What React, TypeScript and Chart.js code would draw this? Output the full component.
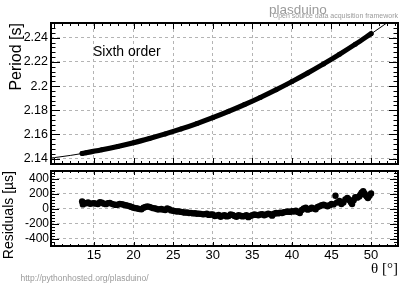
import { useEffect, useRef } from "react";
import { Chart, registerables } from "chart.js";

Chart.register(...registerables);

// ---------------- data ----------------
const periodAngles = [13.5, 14, 16, 18, 20, 22, 24, 26, 28, 30, 32, 34, 36, 38, 40, 42, 44, 46, 48, 50];
const periodValues = [
  2.14432, 2.14488, 2.14733, 2.15011, 2.15319, 2.15668, 2.16044, 2.16458, 2.16907, 2.17391,
  2.17912, 2.18471, 2.19067, 2.19702, 2.20374, 2.21084, 2.21838, 2.22629, 2.23461, 2.24338,
];

const fitAngles = [9, 10, 12, 14, 16, 18, 20, 22, 24, 26, 28, 30, 32, 34, 36, 38, 40, 42, 44, 46, 48, 50, 52, 54];
const fitValues = [
  2.1401, 2.14088, 2.14267, 2.1448, 2.14726, 2.15006, 2.15319, 2.15666, 2.16047, 2.16463, 2.16914, 2.174,
  2.17922, 2.1848, 2.19075, 2.19707, 2.20377, 2.21085, 2.21833, 2.2262, 2.23448, 2.24318, 2.25229, 2.26184,
];

const residualAngles = [
  13.5, 13.6, 13.75, 14.0, 14.25, 14.5, 14.75, 15.0, 15.25, 15.5,
  15.75, 16.0, 16.25, 16.5, 16.75, 17.0, 17.25, 17.5, 17.75, 18.0,
  18.25, 18.5, 18.75, 19.0, 19.25, 19.5, 19.75, 20.0, 20.25, 20.5,
  20.75, 21.0, 21.25, 21.5, 21.75, 22.0, 22.25, 22.5, 22.75, 23.0,
  23.25, 23.5, 23.75, 24.0, 24.25, 24.5, 24.75, 25.0, 25.25, 25.5,
  25.75, 26.0, 26.25, 26.5, 26.75, 27.0, 27.25, 27.5, 27.75, 28.0,
  28.25, 28.5, 28.75, 29.0, 29.25, 29.5, 29.75, 30.0, 30.25, 30.5,
  30.75, 31.0, 31.25, 31.5, 31.75, 32.0, 32.25, 32.5, 32.75, 33.0,
  33.25, 33.5, 33.75, 34.0, 34.25, 34.5, 34.75, 35.0, 35.25, 35.5,
  35.75, 36.0, 36.25, 36.5, 36.75, 37.0, 37.25, 37.5, 37.75, 38.0,
  38.25, 38.5, 38.75, 39.0, 39.25, 39.5, 39.75, 40.0, 40.25, 40.5,
  40.75, 41.0, 41.25, 41.5, 41.75, 42.0, 42.25, 42.5, 42.75, 43.0,
  43.25, 43.5, 43.75, 44.0, 44.25, 44.5, 44.75, 45.0, 45.25, 45.5,
  45.7, 46.0, 46.25, 46.5, 46.75, 47.0, 47.15, 47.3, 47.45, 47.6,
  47.8, 48.0, 48.25, 48.5, 48.65, 48.8, 49.0, 49.15, 49.3, 49.45,
  49.6, 49.8, 50.0,
];
const residualValues = [
  95, 55, 75, 70, 80, 62, 68, 72, 65, 60,
  85, 78, 65, 58, 70, 75, 62, 55, 48, 50,
  62, 58, 50, 45, 38, 30, 20, 10, 5, 0,
  -8, -10, 10, 20, 28, 22, 12, 5, 0, -10,
  -12, -5, -15, -20, 2, -10, -25, -30, -35, -40,
  -38, -45, -50, -55, -52, -60, -58, -65, -62, -70,
  -68, -72, -78, -75, -70, -85, -80, -80, -100, -95,
  -85, -110, -95, -90, -105, -100, -80, -85, -100, -110,
  -90, -95, -105, -100, -90, -115, -100, -90, -80, -85,
  -90, -80, -75, -90, -80, -70, -75, -95, -70, -60,
  -65, -55, -60, -50, -45, -40, -45, -35, -40, -30,
  -45, -60, -20, 0, 10, -15, -5, 10, 0, -10,
  20, 30, 45, 50, 40, 30, 45, 60, 55, 170,
  80, 100, 60, 80, 120, 140, 125, 110, 85, 60,
  110, 150, 145, 160, 185, 210, 230, 205, 180, 160,
  140, 170, 200,
];

const angleTicks = [15, 20, 25, 30, 35, 40, 45, 50];
const periodTicks = [2.14, 2.16, 2.18, 2.2, 2.22, 2.24];
const residualTicks = [-400, -200, 0, 200, 400];

const angleRange = [9.57, 53.4];
const periodRange = [2.1356, 2.2522];
const residualRange = [-500, 500];

// ---------------- styling helpers ----------------
const FONT = "Liberation Sans";
const GRID_COLOR = "#b4b4b4";

type FrameOpts = {
  xMinor: number; xRatio: number; yMinor: number; yRatio: number;
  xMajorLen: number; xMinorLen: number; yMajorLen: number; yMinorLen: number;
};

function framePlugin(id: string, o: FrameOpts) {
  return {
    id,
    afterDraw(chart: any) {
      const { ctx, chartArea: a, scales } = chart;
      const xs = scales.x;
      const ys = scales.y;
      ctx.save();
      ctx.strokeStyle = "#000";
      ctx.lineWidth = 1;
      ctx.beginPath();
      for (let k = Math.ceil(xs.min / o.xMinor - 1e-9); k * o.xMinor <= xs.max + 1e-9; k++) {
        const px = Math.round(xs.getPixelForValue(k * o.xMinor)) + 0.5;
        const len = k % o.xRatio === 0 ? o.xMajorLen : o.xMinorLen;
        ctx.moveTo(px, a.bottom);
        ctx.lineTo(px, a.bottom - len);
        ctx.moveTo(px, a.top);
        ctx.lineTo(px, a.top + len);
      }
      for (let k = Math.ceil(ys.min / o.yMinor - 1e-9); k * o.yMinor <= ys.max + 1e-9; k++) {
        const py = Math.round(ys.getPixelForValue(k * o.yMinor)) + 0.5;
        const len = k % o.yRatio === 0 ? o.yMajorLen : o.yMinorLen;
        ctx.moveTo(a.left, py);
        ctx.lineTo(a.left + len, py);
        ctx.moveTo(a.right, py);
        ctx.lineTo(a.right - len, py);
      }
      ctx.stroke();
      ctx.lineWidth = 2;
      ctx.strokeRect(a.left, a.top, a.right - a.left, a.bottom - a.top);
      ctx.restore();
    },
  };
}

const textPlugin = {
  id: "texts",
  afterDraw(chart: any) {
    const ctx = chart.ctx;
    ctx.save();
    ctx.textBaseline = "alphabetic";
    ctx.fillStyle = "#000";
    ctx.font = `14px "${FONT}"`;
    ctx.textAlign = "left";
    ctx.fillText("Sixth order", 93, 55.5);
    ctx.fillStyle = "#9a9a9a";
    ctx.font = `13.5px "${FONT}"`;
    ctx.fillText("plasduino", 269, 13.5);
    ctx.font = `7px "${FONT}"`;
    ctx.textAlign = "right";
    ctx.fillText("Open source data acquisition framework", 398, 18);
    ctx.textAlign = "left";
    ctx.font = `8.5px "${FONT}"`;
    ctx.fillText("http://pythonhosted.org/plasduino/", 20.5, 280.5);
    ctx.restore();
  },
};

const gridOpts = { color: GRID_COLOR, lineWidth: 1, drawTicks: false };
const borderOpts = { display: false, dash: [3, 3] };
const fmt = (v: any) => String(Number(Number(v).toFixed(4)));

function topConfig(): any {
  return {
    type: "scatter",
    data: {
      datasets: [
        {
          data: periodAngles.map((x, i) => ({ x, y: periodValues[i] })),
          showLine: true,
          borderColor: "#000",
          backgroundColor: "#000",
          borderWidth: 5,
          borderCapStyle: "round",
          cubicInterpolationMode: "monotone",
          pointRadius: 2.5,
          pointBorderWidth: 0,
          order: 1,
        },
        {
          data: fitAngles.map((x, i) => ({ x, y: fitValues[i] })),
          showLine: true,
          borderColor: "#000",
          borderWidth: 1,
          cubicInterpolationMode: "monotone",
          pointRadius: 0,
          order: 2,
        },
      ],
    },
    options: {
      responsive: false,
      animation: false,
      events: [],
      layout: { padding: { left: 0, right: 17, top: 23, bottom: 120 } },
      plugins: { legend: { display: false }, tooltip: { enabled: false } },
      scales: {
        x: {
          type: "linear",
          min: angleRange[0],
          max: angleRange[1],
          afterBuildTicks: (s: any) => { s.ticks = angleTicks.map((value) => ({ value })); },
          afterFit: (s: any) => { s.height = 0; },
          ticks: { display: false },
          grid: gridOpts,
          border: borderOpts,
        },
        y: {
          type: "linear",
          min: periodRange[0],
          max: periodRange[1],
          afterBuildTicks: (s: any) => { s.ticks = periodTicks.map((value) => ({ value })); },
          afterFit: (s: any) => { s.width = 51; },
          ticks: { color: "#000", font: { family: FONT, size: 12.5 }, padding: 3, callback: fmt },
          grid: gridOpts,
          border: borderOpts,
          title: {
            display: true,
            text: "Period [s]",
            align: "end",
            color: "#000",
            font: { family: FONT, size: 16 },
            padding: { top: 7, bottom: 0 },
          },
        },
      },
    },
    plugins: [
      framePlugin("frameTop", {
        xMinor: 1, xRatio: 5, yMinor: 0.004, yRatio: 5,
        xMajorLen: 6, xMinorLen: 3, yMajorLen: 9, yMinorLen: 4.5,
      }),
      textPlugin,
    ],
  };
}

function bottomConfig(): any {
  return {
    type: "scatter",
    data: {
      datasets: [
        {
          data: residualAngles.map((x, i) => ({ x, y: residualValues[i] })),
          backgroundColor: "#000",
          pointRadius: 3.2,
          pointBorderWidth: 0,
        },
      ],
    },
    options: {
      responsive: false,
      animation: false,
      events: [],
      layout: { padding: { left: 0, right: 17, top: 171, bottom: 0 } },
      plugins: { legend: { display: false }, tooltip: { enabled: false } },
      scales: {
        x: {
          type: "linear",
          min: angleRange[0],
          max: angleRange[1],
          afterBuildTicks: (s: any) => { s.ticks = angleTicks.map((value) => ({ value })); },
          afterFit: (s: any) => { s.height = 38; },
          ticks: { color: "#000", font: { family: FONT, size: 13 }, padding: 2, callback: fmt },
          grid: gridOpts,
          border: borderOpts,
          title: {
            display: true,
            text: "θ [°]",
            align: "end",
            color: "#000",
            font: { family: "Liberation Serif", size: 15 },
            padding: { top: 0, bottom: 5.5 },
          },
        },
        y: {
          type: "linear",
          min: residualRange[0],
          max: residualRange[1],
          afterBuildTicks: (s: any) => { s.ticks = residualTicks.map((value) => ({ value })); },
          afterFit: (s: any) => { s.width = 51; },
          ticks: { color: "#000", font: { family: FONT, size: 12 }, padding: 2, callback: fmt },
          grid: gridOpts,
          border: borderOpts,
          title: {
            display: true,
            text: "Residuals [µs]",
            align: "end",
            color: "#000",
            font: { family: FONT, size: 14 },
            padding: { top: 1, bottom: 0 },
          },
        },
      },
    },
    plugins: [
      framePlugin("frameBottom", {
        xMinor: 1, xRatio: 5, yMinor: 40, yRatio: 5,
        xMajorLen: 4, xMinorLen: 2, yMajorLen: 8, yMinorLen: 4,
      }),
    ],
  };
}

export default function App() {
  const topRef = useRef<HTMLCanvasElement>(null);
  const botRef = useRef<HTMLCanvasElement>(null);

  useEffect(() => {
    Chart.defaults.font.family = FONT;
    const c1 = new Chart(topRef.current as HTMLCanvasElement, topConfig());
    const c2 = new Chart(botRef.current as HTMLCanvasElement, bottomConfig());
    return () => {
      c1.destroy();
      c2.destroy();
    };
  }, []);

  return (
    <div style={{ position: "absolute", left: 0, top: 0, width: 415, height: 284, background: "#fff" }}>
      <canvas ref={topRef} width={415} height={284} style={{ position: "absolute", left: 0, top: 0 }} />
      <canvas ref={botRef} width={415} height={284} style={{ position: "absolute", left: 0, top: 0 }} />
    </div>
  );
}
